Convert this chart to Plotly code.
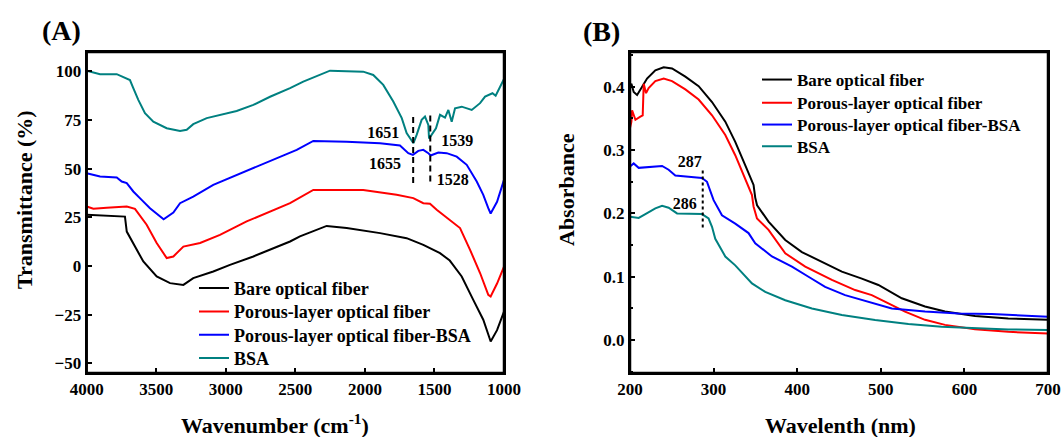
import plotly.graph_objects as go

# ---------------- Panel A: FTIR ----------------
bare_wn = [4000, 3880, 3725, 3712, 3665, 3593, 3497, 3401, 3305, 3234, 3090, 2970, 2802, 2682, 2538,
           2467, 2275, 2131, 1891, 1700, 1580, 1460, 1390, 1376, 1304, 1221, 1149, 1100, 1096, 1050, 1000]
bare_t = [26.3, 25.8, 25.4, 17.7, 11.8, 2.3, -5.4, -8.8, -9.7, -6.2, -2.8, 0.6, 4.9, 8.3, 12.6,
          15.2, 20.6, 19.5, 16.9, 14.3, 10.9, 6.6, 2.8, 1.5, -5.4, -17.4, -27.6, -37.9, -38.8, -33, -23.4]

porous_wn = [4000, 3952, 3856, 3712, 3653, 3569, 3497, 3425, 3377, 3305, 3185, 3042, 2850, 2706, 2538,
             2371, 2012, 1772, 1652, 1580, 1532, 1484, 1388, 1316, 1244, 1172, 1113, 1096, 1050, 1000]
porous_t = [30.6, 29.4, 30.0, 30.6, 29.4, 21.2, 11.8, 4.1, 4.9, 10.0, 11.8, 16.0, 22.9, 27.2, 32.3,
            39.1, 39.1, 36.6, 34.9, 32.3, 32.0, 28.9, 23.7, 19.5, 8.3, -3.6, -14.8, -15.7, -9, -0.3]

pbsa_wn = [4000, 3904, 3784, 3748, 3712, 3665, 3605, 3545, 3447, 3377, 3329, 3234, 3090, 2922, 2778,
           2658, 2538, 2490, 2371, 2131, 1891, 1748, 1688, 1655, 1616, 1580, 1544, 1528, 1472, 1412,
           1340, 1268, 1196, 1149, 1113, 1096, 1050, 1000]
pbsa_t = [47.7, 46.0, 45.5, 43.4, 42.6, 38.3, 34.0, 29.7, 24.0, 27.5, 32.3, 35.7, 41.7, 46.8, 51.1,
          54.5, 58.3, 59.7, 64.3, 63.9, 63.1, 61.9, 58.0, 57.1, 59.2, 59.7, 58.0, 56.8, 58.3, 58.0,
          56.2, 52.0, 43.4, 36.6, 29.7, 27.0, 33, 44.3]

bsa_wn = [4000, 3904, 3784, 3725, 3689, 3665, 3629, 3581, 3521, 3425, 3329, 3281, 3234, 3137, 3042,
          2922, 2802, 2682, 2538, 2443, 2251, 2012, 1940, 1868, 1796, 1735, 1700, 1651, 1628, 1592,
          1568, 1544, 1539, 1489, 1460, 1424, 1400, 1376, 1352, 1304, 1232, 1172, 1136, 1083, 1060, 1000]
bsa_t = [100.4, 98.6, 98.6, 96.8, 95.6, 91.4, 85.4, 78.5, 74.2, 70.8, 69.4, 70.0, 72.9, 76.0, 77.7,
         79.7, 82.8, 87.0, 91.4, 94.8, 100.4, 99.9, 98.2, 93.1, 84.5, 76.0, 68.3, 63.1, 67.4, 75.1,
         76.8, 72.5, 65.5, 70.8, 77.7, 76.3, 80.2, 74.2, 81.1, 81.9, 80.2, 83.7, 87.1, 88.8, 87.5, 96.1]

# peak marker positions (panel A)
peakA_x = [1653, 1530]
peakA_ylo = [42.6, 43.4]
peakA_yhi = [78.5, 79.0]
peakA_labels = ["1651", "1539", "1655", "1528"]
peakA_lab_x = [1868, 1336, 1855, 1369]
peakA_lab_y = [67.7, 63.6, 52.0, 43.8]

# ---------------- Panel B: UV-Vis ----------------
bare_wl = [200, 201.7, 204.4, 208.5, 214.5, 220.4, 230.3, 240.3, 250.3, 266.2, 282.1, 298.1, 314, 325.9,
           337.9, 347.8, 349.8, 352, 365.7, 385.7, 405.6, 433.4, 453.4, 477.3, 497.1, 525.1, 552.9,
           576.8, 612.7, 652.5, 700]
bare_a = [0.400, 0.405, 0.392, 0.387, 0.400, 0.413, 0.426, 0.431, 0.429, 0.416, 0.401, 0.376, 0.345,
          0.313, 0.276, 0.245, 0.225, 0.213, 0.187, 0.158, 0.139, 0.121, 0.108, 0.097, 0.087, 0.066,
          0.053, 0.045, 0.038, 0.034, 0.032]

porous_wl = [200, 201.7, 202.5, 206.5, 212.4, 215.2, 216.4, 219.2, 222.3, 230.3, 240.3, 250.3, 266.2,
             282.1, 298.1, 314, 325.9, 337.9, 345.9, 347.8, 351.9, 365.7, 385.7, 409.6, 441.5, 469.3,
             489.2, 509.1, 529, 552.9, 576.8, 612.7, 652.5, 700]
porous_a = [0.335, 0.345, 0.363, 0.348, 0.353, 0.355, 0.405, 0.390, 0.398, 0.409, 0.413, 0.409, 0.396,
            0.380, 0.355, 0.324, 0.292, 0.255, 0.229, 0.211, 0.192, 0.174, 0.137, 0.116, 0.095, 0.079,
            0.071, 0.058, 0.045, 0.032, 0.024, 0.017, 0.013, 0.0105]

pbsa_wl = [200, 204.4, 210.4, 226.4, 238.4, 246.2, 254.2, 270.1, 286.1, 292.1, 300, 310, 325.9, 341.8,
           349.8, 369.8, 393.7, 413.5, 433.4, 457.3, 485.2, 513.1, 552.9, 592.7, 632.6, 672.4, 700]
pbsa_a = [0.274, 0.279, 0.272, 0.274, 0.275, 0.269, 0.260, 0.258, 0.256, 0.250, 0.221, 0.197, 0.184,
          0.169, 0.153, 0.132, 0.116, 0.100, 0.084, 0.071, 0.0605, 0.050, 0.045, 0.042, 0.041, 0.039, 0.037]

bsa_wl = [200, 210.4, 218.4, 230.3, 238.4, 246.2, 256.3, 270.1, 286.1, 294, 298.1, 302, 314, 325.9,
          337.9, 345.9, 361.8, 385.7, 417.6, 453.4, 493.2, 533, 572.9, 612.7, 652.5, 700]
bsa_a = [0.195, 0.193, 0.199, 0.208, 0.212, 0.209, 0.200, 0.199, 0.199, 0.192, 0.179, 0.160, 0.132,
         0.118, 0.100, 0.0895, 0.076, 0.063, 0.050, 0.0395, 0.0316, 0.0253, 0.021, 0.0185, 0.0169, 0.0158]

peakB_x = [287]
peakB_ylo = [0.178]
peakB_yhi = [0.268]
peakB_labels = ["287", "286"]
peakB_lab_x = [271.5, 265.5]
peakB_lab_y = [0.279, 0.214]

names = ["Bare optical fiber", "Porous-layer optical fiber", "Porous-layer optical fiber-BSA", "BSA"]
colors = ["#000000", "#FF0000", "#0000FF", "#008080"]

FONT = "Liberation Serif"
W, H = 1062, 437

xdomA = [86.7 / W, 504 / W]
xdomB = [630 / W, 1048 / W]
ydom = [1 - 373 / H, 1 - 52 / H]

fig = go.Figure()

legA = ["legend", "legend2", "legend3", "legend4"]
legB = ["legend5", "legend6", "legend7", "legend8"]

A_data = [(bare_wn, bare_t), (porous_wn, porous_t), (pbsa_wn, pbsa_t), (bsa_wn, bsa_t)]
for (xs, ys), nm, c, lg in zip(A_data, names, colors, legA):
    fig.add_trace(go.Scatter(x=xs, y=ys, mode="lines", name=nm, line=dict(color=c, width=2),
                             xaxis="x", yaxis="y", legend=lg))

B_data = [(bare_wl, bare_a), (porous_wl, porous_a), (pbsa_wl, pbsa_a), (bsa_wl, bsa_a)]
for (xs, ys), nm, c, lg in zip(B_data, names, colors, legB):
    fig.add_trace(go.Scatter(x=xs, y=ys, mode="lines", name=nm, line=dict(color=c, width=2),
                             xaxis="x2", yaxis="y2", legend=lg))

for px, lo, hi in zip(peakA_x, peakA_ylo, peakA_yhi):
    fig.add_trace(go.Scatter(x=[px, px], y=[lo, hi], mode="lines", showlegend=False,
                             line=dict(color="black", width=2, dash="6px,4px"), xaxis="x", yaxis="y"))
for px, lo, hi in zip(peakB_x, peakB_ylo, peakB_yhi):
    fig.add_trace(go.Scatter(x=[px, px], y=[lo, hi], mode="lines", showlegend=False,
                             line=dict(color="black", width=2, dash="dot"), xaxis="x2", yaxis="y2"))

fig.add_trace(go.Scatter(x=peakA_lab_x, y=peakA_lab_y, mode="text", text=peakA_labels, showlegend=False,
                         textfont=dict(family=FONT, size=16, color="black", weight="bold"),
                         xaxis="x", yaxis="y"))
fig.add_trace(go.Scatter(x=peakB_lab_x, y=peakB_lab_y, mode="text", text=peakB_labels, showlegend=False,
                         textfont=dict(family=FONT, size=16, color="black", weight="bold"),
                         xaxis="x2", yaxis="y2"))

tickfont = dict(family=FONT, size=17, color="black", weight="bold")
axcommon = dict(showline=True, linecolor="black", linewidth=2, mirror=True, ticks="inside",
                ticklen=5, tickwidth=2, tickcolor="black", showgrid=False, zeroline=False,
                tickfont=tickfont, automargin=False)

layout = dict(
    width=W, height=H, autosize=False,
    margin=dict(l=0, r=0, t=0, b=0),
    paper_bgcolor="white", plot_bgcolor="white",
    xaxis=dict(domain=xdomA, range=[4000, 1000], tickvals=[4000, 3500, 3000, 2500, 2000, 1500, 1000],
               anchor="y", **axcommon),
    yaxis=dict(domain=ydom, range=[-55, 110], tickvals=[-50, -25, 0, 25, 50, 75, 100], anchor="x", **axcommon),
    xaxis2=dict(domain=xdomB, range=[200, 700], tickvals=[200, 300, 400, 500, 600, 700],
                anchor="y2", **axcommon),
    yaxis2=dict(domain=ydom, range=[-0.052, 0.455], tickvals=[0.0, 0.1, 0.2, 0.3, 0.4], tickformat=".1f",
                anchor="x2", minor=dict(dtick=0.05, ticks="inside", ticklen=3, tickwidth=2, tickcolor="black"),
                **axcommon),
)

rowsA = [288.3, 311.7, 335.0, 358.3]
rowsB = [80.0, 103.3, 125.0, 146.7]
for lg, r in zip(legA, rowsA):
    layout[lg] = dict(x=194 / W, xanchor="left", y=1 - r / H, yanchor="middle", bgcolor="rgba(0,0,0,0)",
                      font=dict(family=FONT, size=18, color="black", weight="bold"), itemwidth=30)
for lg, r in zip(legB, rowsB):
    layout[lg] = dict(x=757 / W, xanchor="left", y=1 - r / H, yanchor="middle", bgcolor="rgba(0,0,0,0)",
                      font=dict(family=FONT, size=17, color="black", weight="bold"), itemwidth=30)
fig.update_layout(**layout)

# plot frames (outline of each panel's plot area)
for xr, yr in [("x domain", "y domain"), ("x2 domain", "y2 domain")]:
    fig.add_shape(type="rect", xref=xr, yref=yr, x0=0, x1=1, y0=0, y1=1,
                  line=dict(color="black", width=2.5), fillcolor="rgba(0,0,0,0)", layer="above")

titlefont = dict(family=FONT, size=22, color="black", weight="bold")
ann = [
    dict(text="(A)", x=61 / W, y=1 - 30 / H, font=dict(family=FONT, size=28, color="black", weight="bold")),
    dict(text="(B)", x=601 / W, y=1 - 32 / H, font=dict(family=FONT, size=28, color="black", weight="bold")),
    dict(text="Wavenumber (cm<sup>-1</sup>)", x=275 / W, y=1 - 424 / H, font=titlefont),
    dict(text="Wavelenth (nm)", x=840 / W, y=1 - 425 / H, font=titlefont),
    dict(text="Transmittance (%)", x=24 / W, y=1 - 200 / H, textangle=-90, font=titlefont),
    dict(text="Absorbance", x=567 / W, y=1 - 190 / H, textangle=-90, font=titlefont),
]
for a in ann:
    fig.add_annotation(xref="paper", yref="paper", xanchor="center", yanchor="middle", showarrow=False, **a)

fig.write_html("out.html", config={"displayModeBar": False},
               post_script="document.body.style.margin='0';document.body.style.overflow='hidden';")
